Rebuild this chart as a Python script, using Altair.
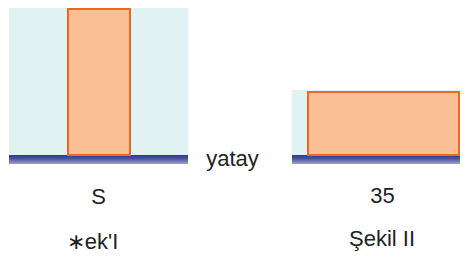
import altair as alt
import pandas as pd

# Two panels: a tall block (Şekil I) and the same block lying flat (Şekil II)
panel_x0 = [1, 284]
panel_x1 = [180, 452]
panel_top = [147, 65]
ground_bottom = [-9, -9]
block_x0 = [60, 300]
block_x1 = [122, 451]
block_top = [146, 63]

label_text = ["S", "35", "∗ek'I", "Şekil II", "yatay"]
label_x = [90.5, 374.5, 84.5, 374, 224.5]
label_y = [-49, -48, -94, -91, -11]

panels = pd.DataFrame({"x0": panel_x0, "x1": panel_x1, "top": panel_top,
                       "gb": ground_bottom, "zero": [0, 0]})
blocks = pd.DataFrame({"x0": block_x0, "x1": block_x1, "top": block_top, "zero": [0, 0]})
labels = pd.DataFrame({"t": label_text, "x": label_x, "y": label_y})

xs = alt.Scale(domain=[0, 452], nice=False, zero=False)
ys = alt.Scale(domain=[-98, 147], nice=False, zero=False)

bg = alt.Chart(panels).mark_rect(color="#E0F2F2").encode(
    x=alt.X("x0:Q", scale=xs, axis=None), x2="x1:Q",
    y=alt.Y("zero:Q", scale=ys, axis=None), y2="top:Q")

ground = alt.Chart(panels).mark_rect(
    color=alt.Gradient(gradient="linear",
                       stops=[alt.GradientStop(color="#2B3990", offset=0),
                              alt.GradientStop(color="#4A52A0", offset=0.4),
                              alt.GradientStop(color="#A4A0CC", offset=1)],
                       x1=0, x2=0, y1=0, y2=1)).encode(
    x=alt.X("x0:Q", scale=xs, axis=None), x2="x1:Q",
    y=alt.Y("gb:Q", scale=ys, axis=None), y2="zero:Q")

block = alt.Chart(blocks).mark_rect(fill="#FABF94", stroke="#F26522", strokeWidth=2).encode(
    x=alt.X("x0:Q", scale=xs, axis=None), x2="x1:Q",
    y=alt.Y("zero:Q", scale=ys, axis=None), y2="top:Q")

text = alt.Chart(labels).mark_text(font="Liberation Sans", fontSize=22, color="#222222",
                                   align="center", baseline="alphabetic").encode(
    x=alt.X("x:Q", scale=xs, axis=None),
    y=alt.Y("y:Q", scale=ys, axis=None),
    text="t:N")

chart = alt.layer(bg, ground, block, text).properties(
    width=452, height=245, padding=0, autosize=alt.AutoSizeParams(type="none")
).configure_view(stroke=None)

chart.save("out.html", embed_options={"renderer": "svg", "actions": False})
